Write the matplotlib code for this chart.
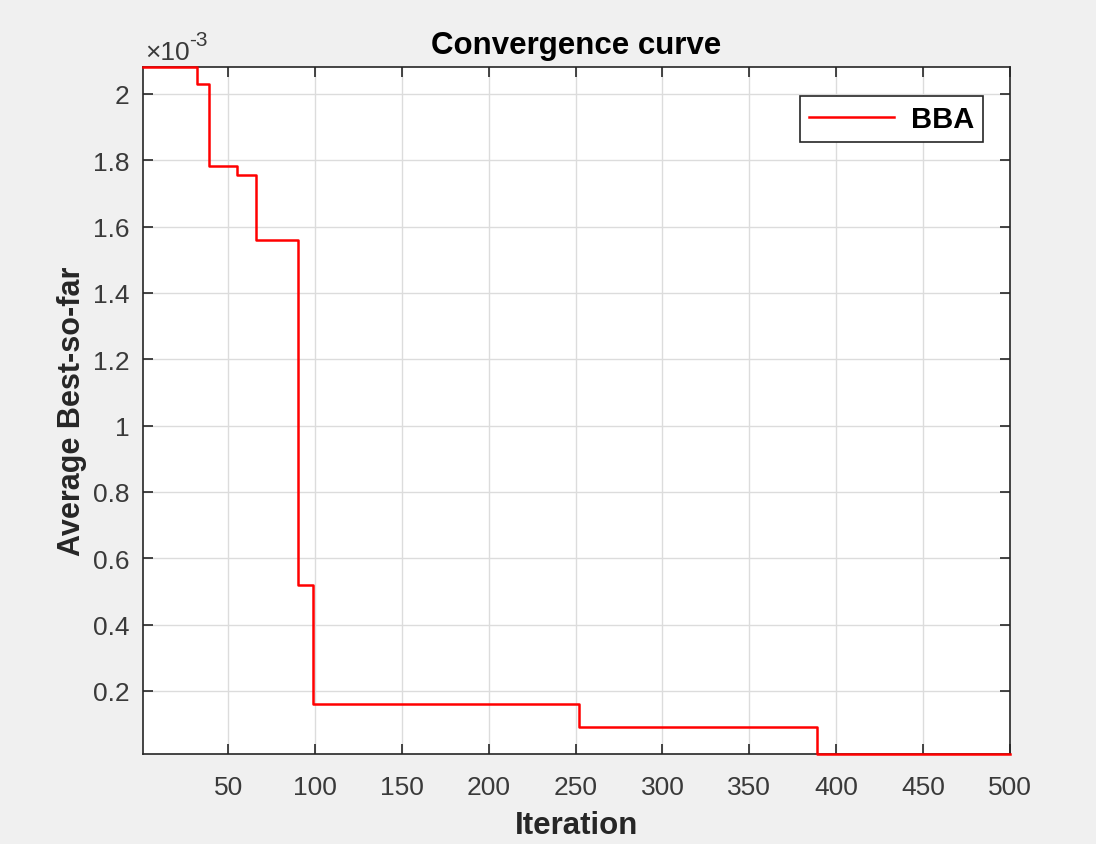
import matplotlib
matplotlib.use("Agg")
import matplotlib.pyplot as plt
import numpy as np

# Data (values in units of 1e-3)
iterations = [1, 32, 39, 55, 66, 90, 99, 252, 389, 500]
best_so_far = [2.081, 2.03, 1.783, 1.754, 1.561, 0.520, 0.161, 0.092, 0.010, 0.010]
series_name = "BBA"
x_ticks = [50, 100, 150, 200, 250, 300, 350, 400, 450, 500]
y_ticks = [0.2, 0.4, 0.6, 0.8, 1.0, 1.2, 1.4, 1.6, 1.8, 2.0]
y_tick_labels = ["0.2", "0.4", "0.6", "0.8", "1", "1.2", "1.4", "1.6", "1.8", "2"]

plt.rcParams['font.family'] = ['Liberation Sans', 'DejaVu Sans']

fig = plt.figure(figsize=(10.96, 8.45), dpi=100, facecolor="#f0f0f0")
ax = fig.add_axes([0.1305, 0.1065, 0.791, 0.8130])
ax.set_facecolor("white")

ax.step(iterations, best_so_far, where="post", color="#ff0000", lw=1.8,
        label=series_name, clip_on=False, zorder=3)

ax.set_xlim(1, 500)
ax.set_ylim(0.0100, 2.081)
ax.set_xticks(x_ticks)
ax.set_yticks(y_ticks)
ax.set_yticklabels(y_tick_labels)

dark = "#262626"
ax.tick_params(direction="in", top=True, right=True, length=7, width=1.2,
               colors=dark, labelsize=19, labelcolor="#3a3a3a")
ax.tick_params(axis="x", pad=15)
ax.tick_params(axis="y", pad=10)
for s in ax.spines.values():
    s.set_color(dark)
    s.set_linewidth(1.2)
ax.grid(True, color="#dcdcdc", lw=1.0)
ax.set_axisbelow(True)

ax.set_title("Convergence curve", fontsize=22.5, fontweight="bold", color="black", pad=10)
ax.set_xlabel("Iteration", fontsize=22.5, fontweight="bold", color=dark, labelpad=8)
ax.set_ylabel("Average Best-so-far", fontsize=22, fontweight="bold", color=dark, labelpad=4)

t1 = ax.text(0.002, 1.012, "\u00d710", transform=ax.transAxes, fontsize=19,
             color="#3a3a3a", ha="left", va="baseline")
ax.annotate("-3", xy=(1.0, 0.6), xycoords=t1, fontsize=15, color="#3a3a3a",
            ha="left", va="bottom")

leg = ax.legend(loc="upper right", bbox_to_anchor=(0.9689, 0.9578), borderaxespad=0,
                fancybox=False, framealpha=1, edgecolor=dark, handlelength=2.9,
                handletextpad=0.6, borderpad=0.3, prop={"weight": "bold", "size": 21})
leg.get_frame().set_linewidth(1.2)

fig.savefig("out.png", dpi=100, facecolor=fig.get_facecolor())
